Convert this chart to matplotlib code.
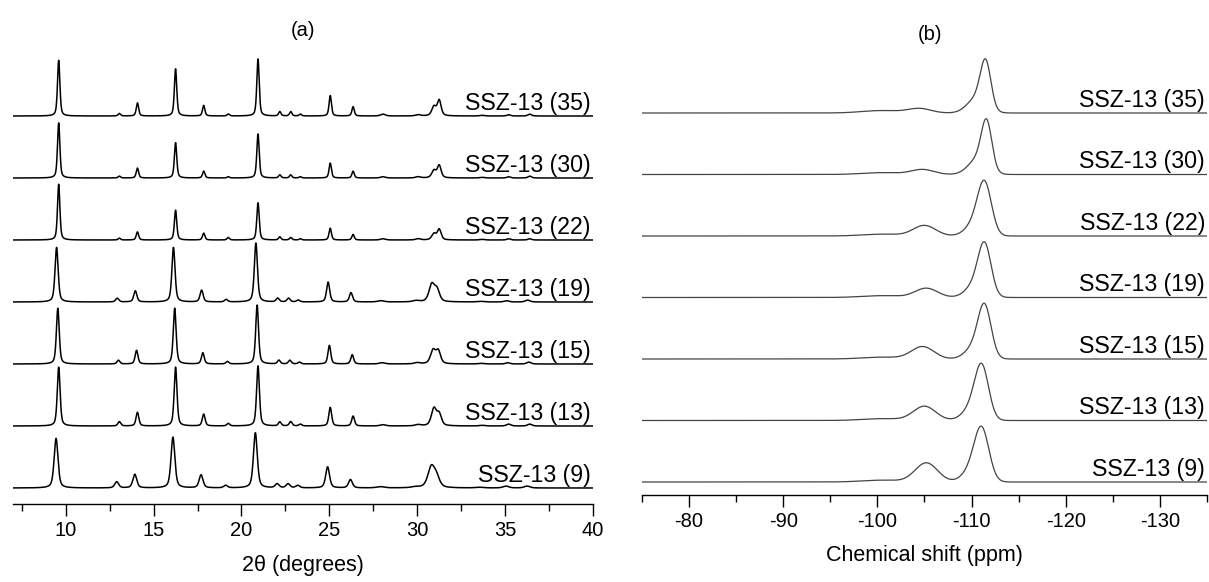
import numpy as np
import matplotlib
matplotlib.use("Agg")
import matplotlib.pyplot as plt
from matplotlib.ticker import MultipleLocator

plt.rcParams['font.family'] = ['Liberation Sans', 'DejaVu Sans']
plt.rcParams['axes.unicode_minus'] = False

W, H = 1209, 582

# ---------------- data ----------------
samples = ["SSZ-13 (35)", "SSZ-13 (30)", "SSZ-13 (22)", "SSZ-13 (19)",
           "SSZ-13 (15)", "SSZ-13 (13)", "SSZ-13 (9)"]

# XRD reflections (2theta, degrees)
xrd_peaks = [9.6, 13.05, 14.08, 16.25, 17.85, 19.25, 20.94, 22.18, 22.8, 23.35,
             25.05, 26.35, 28.05, 30.05, 30.95, 31.25, 33.7, 35.2, 36.4]
xrd_peak_broad = [1, 1, 1, 1, 1, 1, 1, 1, 1, 1, 1, 1, 2, 2, 1.8, 1.6, 2, 1.5, 1.5]
xrd_int_35 = [0.90, 0.04, 0.21, 0.76, 0.17, 0.03, 0.92, 0.07, 0.07, 0.03, 0.33, 0.15, 0.03, 0.02, 0.15, 0.25, 0.01, 0.02, 0.03]
xrd_int_30 = [0.89, 0.03, 0.16, 0.57, 0.11, 0.02, 0.71, 0.05, 0.05, 0.02, 0.24, 0.11, 0.02, 0.02, 0.12, 0.20, 0.01, 0.02, 0.03]
xrd_int_22 = [0.90, 0.03, 0.13, 0.48, 0.11, 0.04, 0.60, 0.05, 0.04, 0.02, 0.19, 0.09, 0.02, 0.02, 0.10, 0.17, 0.01, 0.02, 0.02]
xrd_int_19 = [0.88, 0.06, 0.18, 0.88, 0.19, 0.04, 0.95, 0.06, 0.06, 0.03, 0.32, 0.15, 0.02, 0.02, 0.28, 0.18, 0.01, 0.02, 0.03]
xrd_int_15 = [0.90, 0.06, 0.22, 0.90, 0.18, 0.04, 0.95, 0.06, 0.06, 0.03, 0.30, 0.15, 0.02, 0.02, 0.22, 0.20, 0.01, 0.02, 0.03]
xrd_int_13 = [0.95, 0.07, 0.22, 0.95, 0.19, 0.04, 0.97, 0.065, 0.07, 0.03, 0.30, 0.16, 0.02, 0.02, 0.28, 0.18, 0.01, 0.03, 0.03]
xrd_int_9 = [0.80, 0.10, 0.22, 0.82, 0.21, 0.04, 0.89, 0.065, 0.065, 0.04, 0.34, 0.135, 0.02, 0.015, 0.33, 0.15, 0.01, 0.03, 0.03]
xrd_intensities = [xrd_int_35, xrd_int_30, xrd_int_22, xrd_int_19, xrd_int_15, xrd_int_13, xrd_int_9]
xrd_shift = [0.0, 0.0, 0.0, -0.12, -0.05, 0.0, -0.15]
xrd_fwhm = [0.16, 0.16, 0.16, 0.21, 0.19, 0.19, 0.26]

# 29Si MAS NMR (ppm): Q4 main line (narrow + low-field shoulder), Q3 line, weak broad band
nmr_main_pos = [-111.5, -111.6, -111.4, -111.4, -111.4, -111.1, -111.1]
nmr_main_h = [0.71, 0.73, 0.75, 0.75, 0.75, 0.77, 0.75]
nmr_main_w = [1.3, 1.3, 1.7, 1.6, 1.6, 1.7, 1.8]
nmr_shoulder_h = [0.35, 0.35, 0.3, 0.3, 0.3, 0.3, 0.3]
nmr_q_pos = [-104.5, -104.8, -105.0, -105.2, -104.8, -105.0, -105.2]
nmr_q_h = [0.07, 0.08, 0.17, 0.15, 0.20, 0.23, 0.31]
nmr_q3_h = [0.04, 0.03, 0.03, 0.03, 0.03, 0.03, 0.03]


def lorentz_voigt(x, c, h, w):
    g = np.exp(-4 * np.log(2) * ((x - c) / w) ** 2)
    l = 1.0 / (1 + 4 * ((x - c) / w) ** 2)
    return h * (0.5 * g + 0.5 * l)


def gauss(x, c, h, w):
    return h * np.exp(-4 * np.log(2) * ((x - c) / w) ** 2)


fig = plt.figure(figsize=(W / 100, H / 100), dpi=100)


def px_axes(x0, x1, ybot, ytop):
    return fig.add_axes([x0 / W, 1 - ybot / H, (x1 - x0) / W, (ybot - ytop) / H])


LABEL_FS = 16.7
TICK_FS = 14.5
AXLABEL_FS = 15.5

# ---------------- (a) XRD ----------------
axa = px_axes(13, 593, 504, 55)
tt = np.linspace(7, 40, 6000)
n = len(samples)
for i, name in enumerate(samples):
    off = n - 1 - i
    y = np.zeros_like(tt)
    for p, h, b in zip(xrd_peaks, xrd_intensities[i], xrd_peak_broad):
        y += lorentz_voigt(tt, p + xrd_shift[i], h, xrd_fwhm[i] * b)
    axa.plot(tt, y + off, color='black', lw=1.1)
    axa.text(39.85, off + 0.1, name, ha='right', va='baseline', fontsize=LABEL_FS)
axa.set_xlim(7, 40)
axa.set_ylim(-0.258, -0.258 + 449 / 62)
axa.xaxis.set_major_locator(MultipleLocator(5))
axa.xaxis.set_minor_locator(MultipleLocator(2.5))
axa.set_xlabel('2θ (degrees)', fontsize=AXLABEL_FS)
axa.xaxis.set_label_coords(0.5, -(565 - 504) / 449)
axa.xaxis.label.set_va('center')

# ---------------- (b) NMR ----------------
axb = px_axes(642, 1207, 495, 53)
ppm = np.linspace(-75, -135, 4000)
for i, name in enumerate(samples):
    off = n - 1 - i
    y = (gauss(ppm, nmr_main_pos[i], nmr_main_h[i], nmr_main_w[i])
         + gauss(ppm, nmr_main_pos[i] + 0.9, nmr_main_h[i] * nmr_shoulder_h[i], 2.4)
         + gauss(ppm, nmr_q_pos[i], nmr_q_h[i], 2.8)
         + gauss(ppm, -100.5, nmr_q3_h[i], 5.0))
    axb.plot(ppm, y + off, color='#444444', lw=0.9)
    axb.text(-134.8, off + 0.1, name, ha='right', va='baseline', fontsize=LABEL_FS)
axb.set_xlim(-75, -135)
axb.set_ylim(-13 / 61.5, -13 / 61.5 + 442 / 61.5)
axb.xaxis.set_major_locator(MultipleLocator(10))
axb.xaxis.set_minor_locator(MultipleLocator(5))
axb.set_xlabel('Chemical shift (ppm)', fontsize=AXLABEL_FS)
axb.xaxis.set_label_coords(0.5, -(555 - 495) / 442)
axb.xaxis.label.set_va('center')

for ax in (axa, axb):
    for s in ('top', 'left', 'right'):
        ax.spines[s].set_visible(False)
    ax.spines['bottom'].set_linewidth(1.0)
    ax.set_yticks([])
    ax.tick_params(axis='x', which='major', direction='out', length=8.5, width=1.0,
                   labelsize=TICK_FS, pad=4)
    ax.tick_params(axis='x', which='minor', direction='out', length=5, width=1.0)
    ax.patch.set_alpha(0)

fig.text(303 / W, 1 - 30 / H, '(a)', ha='center', va='center', fontsize=TICK_FS)
fig.text(930 / W, 1 - 34 / H, '(b)', ha='center', va='center', fontsize=TICK_FS)

fig.savefig('out.png', dpi=100)
